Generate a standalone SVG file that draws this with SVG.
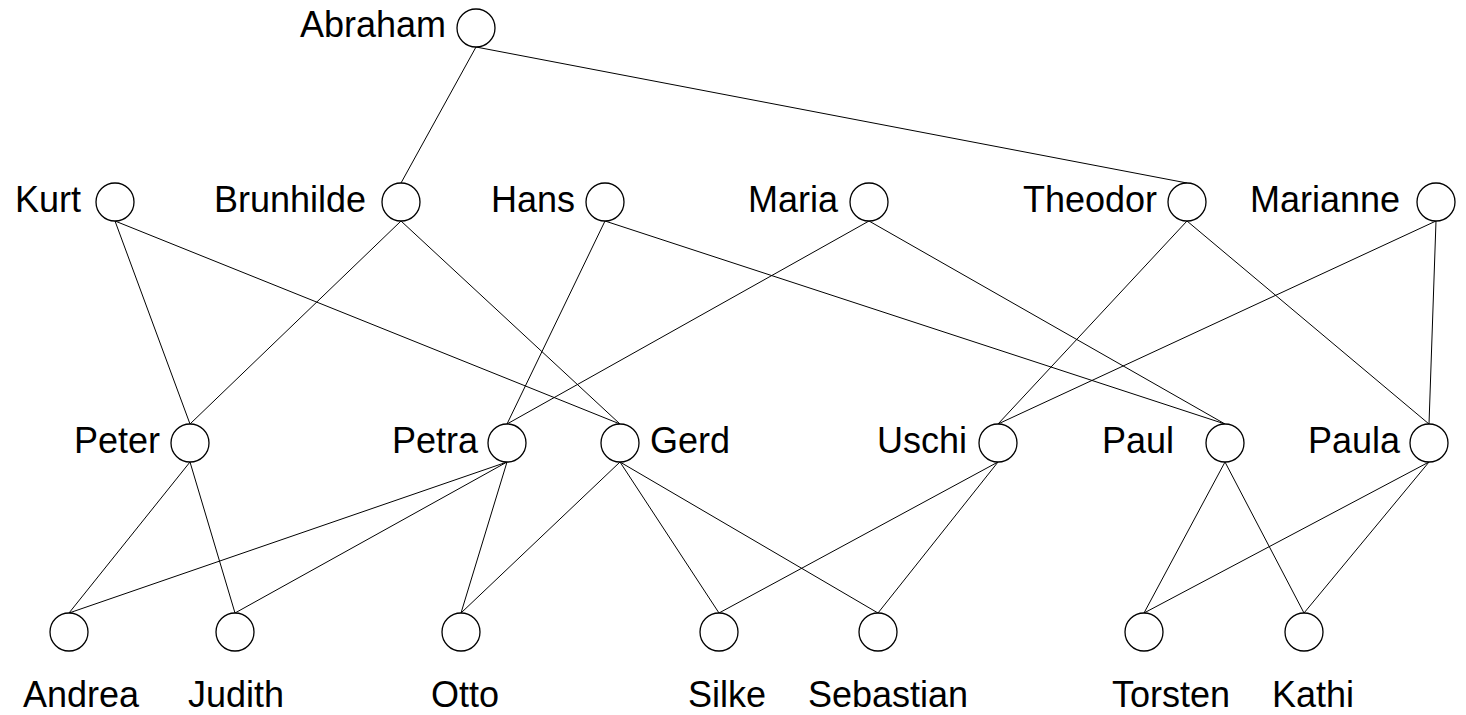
<svg xmlns="http://www.w3.org/2000/svg" width="1466" height="715" viewBox="0 0 1466 715">
<style>
.n{fill:#fff;stroke:#000;stroke-width:1.3}
.e{stroke:#000;stroke-width:1;fill:none}
text{font-family:"Liberation Sans",Arial,sans-serif;font-size:36px;fill:#000}
.r{text-anchor:end}
</style>
<rect width="1466" height="715" fill="#fff"/>
<g id="edges" class="e">
<line x1="476" y1="47" x2="401" y2="183"/>
<line x1="476" y1="47" x2="1187" y2="183"/>
<line x1="115" y1="221" x2="190" y2="424"/>
<line x1="115" y1="221" x2="620" y2="424"/>
<line x1="401" y1="221" x2="190" y2="424"/>
<line x1="401" y1="221" x2="620" y2="424"/>
<line x1="605" y1="221" x2="507" y2="424"/>
<line x1="605" y1="221" x2="1225" y2="424"/>
<line x1="869" y1="221" x2="507" y2="424"/>
<line x1="869" y1="221" x2="1225" y2="424"/>
<line x1="1187" y1="221" x2="998" y2="424"/>
<line x1="1187" y1="221" x2="1429" y2="424"/>
<line x1="1436" y1="221" x2="998" y2="424"/>
<line x1="1436" y1="221" x2="1429" y2="424"/>
<line x1="190" y1="462" x2="69" y2="613"/>
<line x1="190" y1="462" x2="235" y2="613"/>
<line x1="507" y1="462" x2="69" y2="613"/>
<line x1="507" y1="462" x2="235" y2="613"/>
<line x1="507" y1="462" x2="461" y2="613"/>
<line x1="620" y1="462" x2="461" y2="613"/>
<line x1="620" y1="462" x2="719" y2="613"/>
<line x1="620" y1="462" x2="878" y2="613"/>
<line x1="998" y1="462" x2="719" y2="613"/>
<line x1="998" y1="462" x2="878" y2="613"/>
<line x1="1225" y1="462" x2="1144" y2="613"/>
<line x1="1225" y1="462" x2="1304" y2="613"/>
<line x1="1429" y1="462" x2="1144" y2="613"/>
<line x1="1429" y1="462" x2="1304" y2="613"/>
</g>
<g id="abraham"><circle class="n" cx="476" cy="28" r="19"/><text class="r" x="446" y="37">Abraham</text></g>
<g id="kurt"><circle class="n" cx="115" cy="202" r="19"/><text class="r" x="81" y="212">Kurt</text></g>
<g id="brunhilde"><circle class="n" cx="401" cy="202" r="19"/><text class="r" x="366" y="212">Brunhilde</text></g>
<g id="hans"><circle class="n" cx="605" cy="202" r="19"/><text class="r" x="575" y="212">Hans</text></g>
<g id="maria"><circle class="n" cx="869" cy="202" r="19"/><text class="r" x="838" y="212">Maria</text></g>
<g id="theodor"><circle class="n" cx="1187" cy="202" r="19"/><text class="r" x="1157" y="212">Theodor</text></g>
<g id="marianne"><circle class="n" cx="1436" cy="202" r="19"/><text class="r" x="1400" y="212">Marianne</text></g>
<g id="peter"><circle class="n" cx="190" cy="443" r="19"/><text class="r" x="160" y="453">Peter</text></g>
<g id="petra"><circle class="n" cx="507" cy="443" r="19"/><text class="r" x="478" y="453">Petra</text></g>
<g id="gerd"><circle class="n" cx="620" cy="443" r="19"/><text x="650" y="453">Gerd</text></g>
<g id="uschi"><circle class="n" cx="998" cy="443" r="19"/><text class="r" x="967" y="453">Uschi</text></g>
<g id="paul"><circle class="n" cx="1225" cy="443" r="19"/><text class="r" x="1174" y="453">Paul</text></g>
<g id="paula"><circle class="n" cx="1429" cy="443" r="19"/><text class="r" x="1400" y="453">Paula</text></g>
<g id="andrea"><circle class="n" cx="69" cy="632" r="19"/><text x="23" y="707">Andrea</text></g>
<g id="judith"><circle class="n" cx="235" cy="632" r="19"/><text x="188" y="707">Judith</text></g>
<g id="otto"><circle class="n" cx="461" cy="632" r="19"/><text x="431" y="707">Otto</text></g>
<g id="silke"><circle class="n" cx="719" cy="632" r="19"/><text x="688" y="707">Silke</text></g>
<g id="sebastian"><circle class="n" cx="878" cy="632" r="19"/><text x="808" y="707">Sebastian</text></g>
<g id="torsten"><circle class="n" cx="1144" cy="632" r="19"/><text x="1112" y="707">Torsten</text></g>
<g id="kathi"><circle class="n" cx="1304" cy="632" r="19"/><text x="1272" y="707">Kathi</text></g>
</svg>
